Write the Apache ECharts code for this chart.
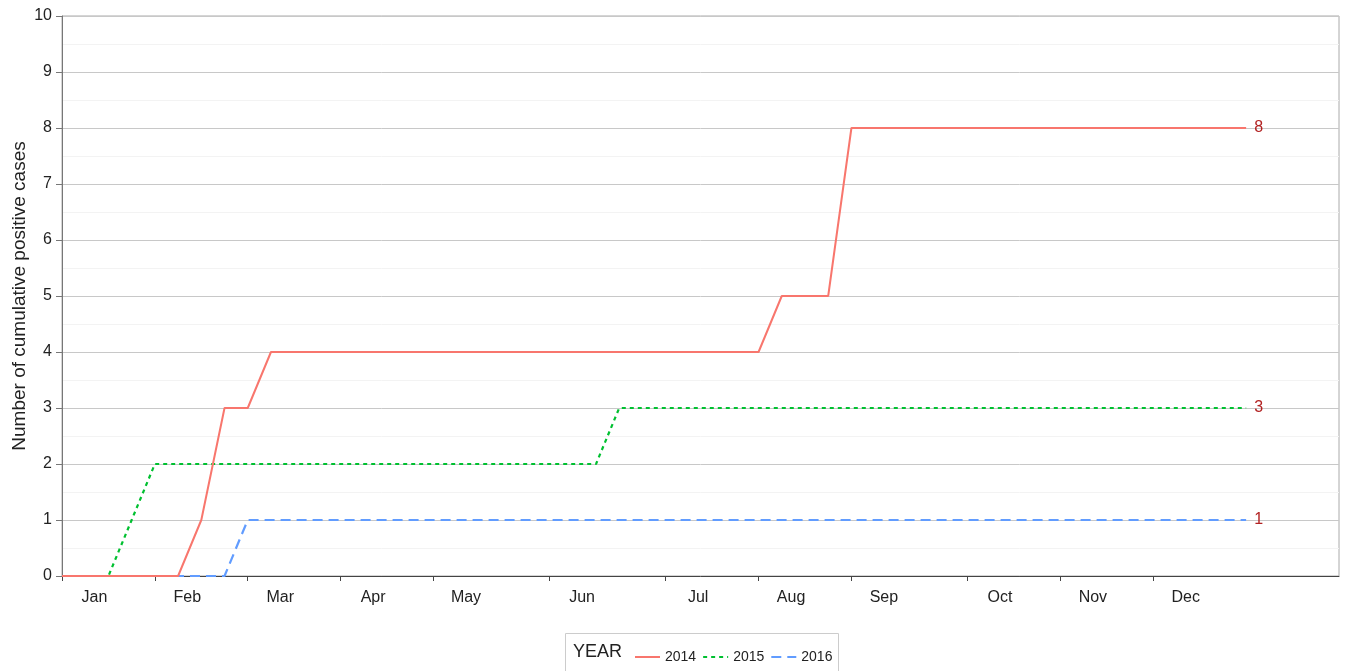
<!DOCTYPE html>
<html><head><meta charset="utf-8">
<script src="https://cdn.jsdelivr.net/npm/echarts@6/dist/echarts.min.js"></script>
<style>html,body{margin:0;padding:0;background:#fff}#c{width:1346px;height:671px}</style>
</head><body><div id="c"></div>
<script>
const weeks = [];
for (let w = 1; w <= 52; w++) weeks.push(w);
const s2014 = [0,0,0,0,0,0,1,3,3,4,4,4,4,4,4,4,4,4,4,4,4,4,4,4,4,4,4,4,4,4,4,5,5,5,8,8,8,8,8,8,8,8,8,8,8,8,8,8,8,8,8,8];
const s2015 = [0,0,0,1,2,2,2,2,2,2,2,2,2,2,2,2,2,2,2,2,2,2,2,2,3,3,3,3,3,3,3,3,3,3,3,3,3,3,3,3,3,3,3,3,3,3,3,3,3,3,3,3];
const s2016 = [0,0,0,0,0,0,0,0,1,1,1,1,1,1,1,1,1,1,1,1,1,1,1,1,1,1,1,1,1,1,1,1,1,1,1,1,1,1,1,1,1,1,1,1,1,1,1,1,1,1,1,1];
const monthLabels = ['Jan','Feb','Mar','Apr','May','Jun','Jul','Aug','Sep','Oct','Nov','Dec'];
const monthStartWeeks = [1,5,9,13,17,22,27,31,35,40,44,48];
const yTicks = [0,1,2,3,4,5,6,7,8,9,10];

const LABEL_SHIFT = 1.4;
const labelVals = monthStartWeeks.map(w => w + LABEL_SHIFT);
const pair = (arr) => weeks.map((w, i) => [w, arr[i]]);

const chart = echarts.init(document.getElementById('c'), null, {renderer: 'canvas'});
const FONT = 'Liberation Sans, Arial, sans-serif';
const endLabel = {show: true, formatter: p => p.value[1], color: '#B22222', fontSize: 16, fontFamily: FONT, distance: 8};
chart.setOption({
  animation: false,
  grid: {left: 62, right: 7, top: 16, bottom: 95, show: true, borderColor: '#aaaaaa', borderWidth: 1,
         containLabel: false, outerBoundsMode: 'none'},
  xAxis: {
    type: 'value', min: 1, max: 56,
    axisLine: {lineStyle: {color: '#444', width: 1}},
    axisTick: {show: true, length: 5, lineStyle: {color: '#444'}, customValues: monthStartWeeks},
    axisLabel: {customValues: labelVals, color: '#222', fontSize: 16, fontFamily: FONT, margin: 14,
      formatter: v => { const i = labelVals.findIndex(x => Math.abs(x - v) < 0.01); return i >= 0 ? monthLabels[i] : ''; }},
    splitLine: {show: false}
  },
  yAxis: {
    type: 'value', min: 0, max: 10, interval: 1,
    name: 'Number of cumulative positive cases', nameLocation: 'middle', nameGap: 33, nameMoveOverlap: false,
    nameTextStyle: {fontSize: 19, color: '#222', fontFamily: FONT},
    axisLine: {show: true, lineStyle: {color: '#777'}},
    axisTick: {show: true, length: 6, lineStyle: {color: '#777'}},
    axisLabel: {color: '#222', fontSize: 16, fontFamily: FONT, margin: 10,
      formatter: v => yTicks.includes(v) ? String(v) : ''},
    splitLine: {show: true, lineStyle: {color: '#c8c8c8', width: 1}},
    minorTick: {show: false, splitNumber: 2},
    minorSplitLine: {show: true, lineStyle: {color: '#f3f3f3', width: 1}}
  },
  legend: {
    left: 629, top: 645, itemWidth: 25, itemHeight: 12, itemGap: 6,
    itemStyle: {opacity: 0},
    textStyle: {fontSize: 14, color: '#222', fontFamily: FONT, padding: [0, 0, 0, 0]},
    data: ['2014','2015','2016']
  },
  graphic: [
    {type: 'rect', shape: {x: 565.5, y: 633.5, width: 273, height: 45}, style: {fill: 'none', stroke: '#cccccc', lineWidth: 1}},
    {type: 'text', left: 573, top: 643, style: {text: 'YEAR', fontSize: 18, fill: '#222', fontFamily: FONT}}
  ],
  series: [
    {name: '2014', type: 'line', data: pair(s2014), symbol: 'none', z: 3,
      lineStyle: {color: '#F8766D', width: 2, type: 'solid'}, itemStyle: {color: '#F8766D'}, endLabel},
    {name: '2015', type: 'line', data: pair(s2015), symbol: 'none', z: 2,
      lineStyle: {color: '#00C030', width: 2.2, type: [4, 4]}, itemStyle: {color: '#00C030'}, endLabel},
    {name: '2016', type: 'line', data: pair(s2016), symbol: 'none', z: 1,
      lineStyle: {color: '#619CFF', width: 2.2, type: [10, 6]}, itemStyle: {color: '#619CFF'}, endLabel}
  ]
});
</script></body></html>
